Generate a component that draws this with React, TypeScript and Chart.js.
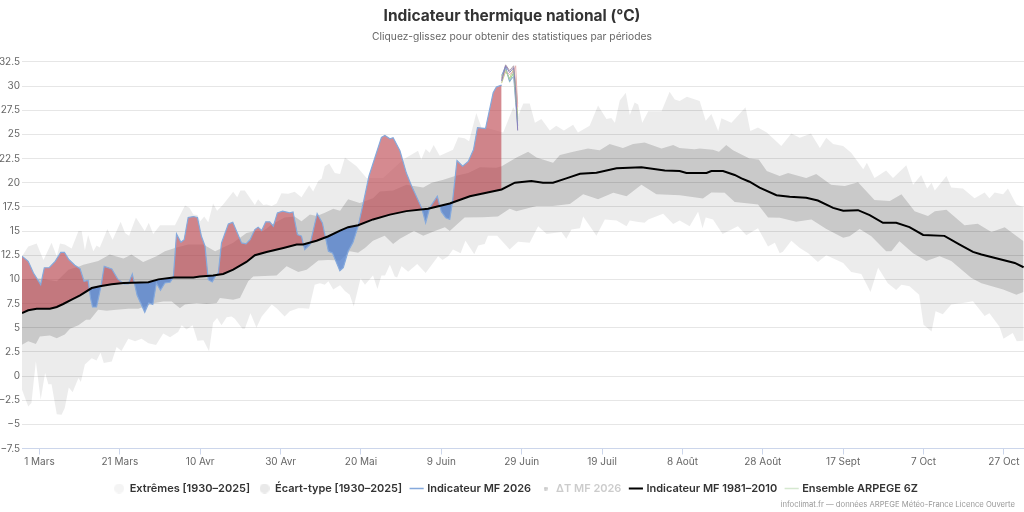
import React, { useEffect, useRef } from 'react';
import { Chart, registerables } from 'chart.js';

Chart.register(...registerables);

// days are counted from 1 March
const tickDays = [0, 20, 40, 60, 80, 100, 120, 140, 160, 180, 200, 220, 240];
const tickLabels = ['1 Mars', '21 Mars', '10 Avr', '30 Avr', '20 Mai', '9 Juin', '29 Juin', '19 Juil', '8 Août', '28 Août', '17 Sept', '7 Oct', '27 Oct'];

const extHighDays = [-4.35, -2.8, -0.7, 1, 3, 4.3, 5.1, 6.3, 8, 9.7, 10.5, 11.3, 12.1, 13.4, 14.2, 15, 16.9, 18.2, 20.2, 21.3, 22.3, 24, 26.2, 27.2, 28.3, 30, 33.7, 36.2, 37.3, 38.3, 39.3, 40, 41, 42, 43.2, 44.2, 45.6, 48.2, 49.2, 50, 51.1, 53.6, 54.4, 55.7, 56.5, 57.8, 59, 60.2, 61.9, 62.7, 63.5, 65.2, 67.1, 68.1, 69.4, 70.2, 71, 72.1, 73.5, 74.8, 76, 78.9, 81.4, 85.5, 90.5, 94.2, 95, 96.1, 97.1, 98.1, 99.6, 102.9, 104.2, 105.8, 106.9, 108.7, 110, 111, 115.4, 117.9, 119.1, 120.4, 122, 123.3, 124.9, 127, 128.6, 130.5, 132.8, 134, 136.9, 139, 141.1, 142.3, 143.2, 144.4, 145.9, 146.9, 148.1, 149, 150, 151.5, 154.8, 156.8, 158.1, 159.3, 161.1, 164.3, 165.8, 167.2, 168.9, 169.7, 172.2, 175.7, 176.9, 178.8, 181, 184.6, 187.1, 189.2, 192, 194.2, 195.8, 197.5, 200, 202, 205, 205.9, 207.8, 210.7, 212.4, 215.7, 217.4, 219.4, 220.9, 222, 222.8, 225.7, 226.9, 229.8, 232.7, 235.2, 236.4, 237.7, 239.8, 241, 243.1, 244.9];
const extHighVals = [12.4, 13.4, 13.7, 12, 13.8, 12.4, 13.7, 13.6, 13.2, 15, 15, 13, 14.6, 12.9, 13.5, 13.3, 15.2, 14.1, 15.95, 14.8, 14.5, 16.4, 15, 15.85, 14.7, 15.6, 15.6, 17.65, 17.4, 16.7, 16.65, 16, 16.5, 15.9, 17.85, 17.1, 17.7, 19.06, 18.5, 19.2, 19.2, 17.7, 18.3, 17.7, 17.75, 17.6, 17.85, 18.9, 18.85, 18.96, 19.06, 18.5, 19.75, 19.1, 20.2, 20.4, 21.7, 22, 21, 20.9, 22.6, 21.7, 20.5, 20.5, 22.4, 23.3, 22.4, 23.5, 23.1, 23.9, 22.8, 23.4, 24.7, 24.6, 24.3, 27.2, 25.7, 25.7, 25.2, 27.8, 26.9, 28.2, 28.2, 26.2, 26.6, 25.4, 25.9, 25.4, 26, 25.2, 25.9, 28, 26.6, 26.7, 26.2, 28.5, 29.3, 27, 28.3, 28.1, 26.2, 27.4, 27.4, 29.4, 28.6, 28.46, 28.9, 28.46, 26.4, 27.1, 25.35, 26.66, 26.2, 27.8, 25.35, 25.7, 25.2, 23.8, 25.1, 24.65, 25.1, 23.6, 24.65, 24, 23.8, 23.1, 21.4, 22.07, 20.5, 21.27, 20.5, 21.8, 19.8, 20.8, 19.4, 20, 19.2, 20.7, 19.5, 19.4, 18.4, 19, 18.4, 19, 18.8, 19.4, 17.75, 17.5];

const extLowDays = [-4.35, -2.8, -2, -0.9, 0.3, 1.4, 2.2, 3, 4.3, 5.5, 6.3, 7.3, 8.25, 9.7, 10.3, 11.3, 13, 14.2, 15.2, 16, 18, 19.2, 20.4, 22.1, 23.8, 25.4, 27.1, 29, 30.8, 32.5, 34.5, 35.4, 36.6, 38.1, 39.3, 40.8, 42.2, 43.2, 44.2, 45.3, 46.6, 47.8, 48.6, 50.5, 51.1, 52.5, 54, 55.3, 57.8, 59, 61, 62.3, 64.4, 65.6, 67.1, 68.5, 69.8, 71, 71.9, 73.1, 74.8, 76, 77.2, 78.2, 79.9, 81, 83, 84.1, 85.1, 86, 87.2, 88.4, 89, 90.1, 91.75, 94, 96.1, 99.2, 100.3, 101.7, 102.9, 104.8, 106, 108.2, 109.2, 110.8, 111.6, 113.9, 117, 119.1, 122, 124.1, 126.2, 129.9, 131.1, 132.4, 134.5, 135.3, 138.6, 140.7, 143.6, 146.1, 146.9, 148.6, 150.6, 151.5, 155.2, 157.7, 159.3, 161.8, 163.9, 165, 165.8, 167.6, 170, 173.8, 175.9, 178.8, 181.3, 183, 184.2, 185, 187.1, 189.2, 191.3, 193.7, 195.8, 200, 202, 204.5, 206.8, 208.7, 211.1, 213.2, 214.5, 216.5, 218.9, 220, 222, 223, 224.8, 226.9, 229.8, 232.3, 235.2, 236.4, 238.9, 239.9, 242.2, 243.2, 244.9];
const extLowVals = [-1.43, -3.15, -2.8, 1.5, -2.46, 0.3, -0.84, -0.84, -3.95, -4, -3.3, -1.2, -1.67, -0.2, -0.63, 1.2, 1.85, 1.6, 2.4, 1.34, 1.5, 3, 2.6, 3.86, 3.6, 3.86, 3.4, 3.2, 4.4, 4, 4.55, 5.24, 4.8, 5.24, 3.65, 3.7, 2.55, 5.5, 6, 5.24, 6.07, 6.17, 5.93, 4.9, 4.9, 6.5, 5, 6.17, 7.4, 7, 6.17, 6.7, 7, 7, 6.97, 9.45, 9.6, 9.45, 9.8, 8.94, 9.4, 8.8, 8.4, 7.2, 10.1, 9.45, 10.4, 9, 10.4, 10.4, 11.5, 10.3, 10.2, 11.35, 10.8, 11.6, 10.66, 12.4, 12, 12.4, 13.1, 12.7, 14, 12.6, 13.5, 13.67, 14.5, 14.5, 13.1, 13.9, 13.8, 15.5, 14.7, 14.9, 14.2, 15.15, 15.3, 16.5, 14.5, 16.2, 16.1, 15.5, 16.1, 15.95, 15.85, 16.2, 16.8, 15.74, 16.1, 15.5, 17, 15.3, 16.4, 16.2, 14.7, 15.5, 14.57, 15.3, 13.4, 13.8, 12.7, 12.85, 14, 13.25, 12.7, 11.8, 12.5, 11.7, 10.77, 10.56, 8.7, 11.2, 9.6, 8.9, 9.45, 9.3, 8.4, 5.3, 4.6, 6.7, 6.4, 7.4, 7.56, 7.73, 6.2, 6.5, 5.1, 3.86, 4.45, 3.6, 3.66];

const sdHighDays = [-4.35, 0.1, 4.3, 7.2, 10, 10.9, 14.6, 17.5, 20.9, 22.9, 25.8, 29.1, 31.2, 33.7, 37, 40.8, 43.7, 48.2, 51.5, 53.6, 55.7, 57.8, 61, 63.5, 65.2, 67.3, 69, 71, 73.1, 74.8, 76.8, 79.7, 83, 84.7, 88, 91.3, 93.2, 95.5, 97.6, 100.5, 103.4, 106.7, 109.6, 113.7, 115, 118.7, 121.6, 123.7, 127.8, 129.5, 132.8, 136.5, 139.4, 141.9, 145.2, 147.7, 150.6, 154.8, 157.7, 159.3, 163, 164.3, 167.6, 169.1, 170.9, 172.6, 176.7, 179, 181, 184.2, 186.3, 190.8, 193.3, 197, 200.4, 203.7, 207.8, 211.6, 214.5, 217.8, 221.1, 222.8, 225.7, 230.2, 233.5, 236.9, 240.2, 244.9];
const sdHighVals = [10, 10.1, 9.8, 11, 11.35, 11.5, 11.9, 12.56, 12.15, 12.56, 11.8, 12.4, 12.9, 13.25, 13.6, 13.6, 12.9, 13.8, 14.8, 15, 15, 15.67, 16.4, 16.5, 16, 16.7, 16.55, 16.9, 17.3, 17.1, 18.3, 17.9, 18.4, 19.1, 19.2, 19.8, 19.65, 19.5, 20, 20.3, 20.7, 21, 21.6, 21.55, 21.7, 22.6, 23.2, 22.6, 22.07, 22.86, 23.2, 23.55, 23.35, 24, 23.6, 24, 24.15, 23.55, 23.9, 23.6, 23.45, 23.55, 23.4, 23.2, 23.9, 23.35, 22.5, 22.4, 21.2, 20.7, 21, 20.5, 20.9, 19.8, 19.65, 20.06, 18.2, 18.1, 18.8, 17.06, 16.55, 17.06, 17.2, 15.6, 15.75, 14.9, 15.4, 13.95];

const sdLowDays = [-4.35, -2.8, -0.9, 0.1, 2.6, 4.3, 6.3, 7.6, 9.7, 11.6, 12.6, 14.6, 16.7, 19.2, 22.1, 24.6, 28.7, 30.8, 32.9, 34.95, 36.2, 39.1, 41.6, 44.1, 44.9, 48.2, 49.9, 51.95, 53.2, 59, 61.5, 64.4, 66.5, 69.4, 71.9, 74.8, 77.2, 79.3, 81, 83, 85.9, 88, 89.7, 93.2, 95.5, 98.4, 100.9, 102.1, 105.8, 110.4, 114.1, 117, 118.7, 123.7, 127.8, 132, 135.3, 139, 142.8, 146.1, 149.8, 153.5, 159.3, 165.1, 167.2, 170.5, 173, 178.8, 181.3, 184.2, 188.3, 192.1, 195.8, 200, 201.6, 204.1, 207, 210.7, 212, 214, 217.4, 220.7, 224, 226.9, 231.9, 234.4, 239.8, 243.1, 244.9];
const sdLowVals = [3.24, 3.6, 3.3, 4.1, 4.2, 3.9, 4.3, 4.9, 5.24, 5.83, 5.83, 6.86, 6.76, 6.86, 6.97, 6.97, 7.55, 7.7, 7.7, 7, 7.4, 7.55, 7.45, 7.55, 8.07, 7.9, 8.07, 9.8, 10.3, 10.4, 11.35, 10.77, 11, 11.94, 12, 11.94, 12.9, 12.75, 13.25, 14, 14.5, 13.67, 14.2, 15, 14.5, 15, 15.4, 15, 16.4, 16.43, 16.5, 17.3, 17.05, 17.6, 17.6, 17.8, 18.8, 18.3, 18.96, 18.6, 19.8, 18.8, 18.7, 18.37, 19, 18.96, 18, 17.75, 16.4, 16.37, 15.95, 16.2, 15.2, 14.3, 14.46, 15.2, 14.46, 12.9, 12.9, 13.95, 12.7, 11.9, 12.4, 11.9, 10.15, 9.6, 8.94, 8.4, 8.7];

const normalDays = [-4.35, -2.8, -0.7, 2.6, 4.3, 5.9, 8, 10.1, 13, 15, 17.95, 20.9, 27.1, 29.6, 33.3, 38.3, 39.9, 43.2, 45.7, 48.2, 51.5, 53.6, 56.5, 60.7, 64, 65.6, 68.95, 71.9, 74.8, 76.8, 79.3, 83, 87.2, 91.3, 96.7, 102.1, 107.1, 111.2, 115, 118.3, 122.4, 125.3, 127.8, 131.1, 134.5, 138.6, 143.6, 149.8, 155.6, 159.3, 161, 166, 167.2, 170.1, 173, 174.7, 176.7, 179.2, 183.4, 186.7, 190.8, 193.7, 197.5, 200, 203.7, 206.6, 209.9, 213.2, 216.5, 219.9, 225.2, 229, 232.3, 234.4, 242.7, 244.9];
const normalVals = [6.52, 6.8, 6.97, 6.97, 7.14, 7.45, 7.9, 8.35, 9.1, 9.28, 9.5, 9.63, 9.7, 10, 10.2, 10.2, 10.3, 10.4, 10.56, 11, 11.8, 12.5, 12.84, 13.25, 13.6, 13.6, 14, 14.46, 15.05, 15.4, 15.6, 16.2, 16.7, 17.06, 17.3, 17.85, 18.6, 18.96, 19.3, 20, 20.17, 20, 20, 20.45, 20.93, 21.03, 21.5, 21.6, 21.27, 21.2, 21, 21, 21.2, 21.2, 20.8, 20.44, 20.1, 19.5, 18.7, 18.55, 18.44, 18.16, 17.4, 17.1, 17.16, 16.64, 15.85, 15.85, 15.4, 14.6, 14.5, 13.6, 12.84, 12.57, 11.7, 11.25];

const mf2026Days = [-4.35, -2.8, -1.5, 0.3, 1.2, 2.4, 3.9, 5.3, 6.2, 7.3, 8.8, 10.1, 11.1, 12.1, 12.7, 13.2, 14.2, 15.3, 16.1, 18, 19.4, 21, 22.1, 23.1, 24.3, 25.8, 26.2, 27.2, 28.2, 29.1, 30.1, 31.2, 32.5, 33.3, 34.1, 35.2, 36, 37, 38.3, 39.3, 40.3, 41.2, 42, 43, 43.7, 44.5, 45.3, 47, 48.1, 50.3, 51.4, 52.4, 53.6, 54.4, 55.3, 56.3, 57.3, 58.2, 59.2, 60.5, 62.3, 63.1, 64.2, 65.2, 66, 67.3, 69.1, 70.4, 71.9, 72.9, 74.75, 75.6, 76.8, 78, 79.3, 80.5, 82, 85.1, 85.95, 87.2, 88, 89.7, 91.3, 92.6, 95.1, 96.1, 97.1, 99, 100, 101.1, 102.1, 102.8, 103.9, 105.3, 106.7, 108, 109, 111, 112.9, 113.7, 115];
const mf2026Vals = [12.4, 11.87, 10.66, 9.45, 11.2, 11.2, 11.87, 12.8, 12.8, 12.05, 11.46, 11.1, 9.8, 9.9, 8.07, 7.14, 7.14, 9.28, 11.35, 11.08, 10.08, 9.52, 9.52, 10.56, 8.35, 6.97, 6.6, 7.55, 7.4, 9.63, 8.87, 9.63, 9.7, 10.2, 14.7, 13.84, 14.1, 16.4, 16.5, 16.4, 14.46, 13.43, 9.97, 9.73, 10.3, 10.66, 13.77, 15.74, 15.9, 13.77, 13.67, 14.1, 15.15, 15.4, 15.05, 15.95, 15.95, 15.5, 16.88, 17.05, 16.88, 16.98, 14.64, 14.46, 13.08, 13.6, 16.8, 15.84, 12.9, 12.74, 10.9, 11.2, 12.9, 13.8, 15.5, 17.75, 20.7, 24.7, 24.9, 24.55, 24.66, 23.3, 21, 19.65, 17.4, 15.85, 17.4, 18.6, 17, 16.37, 16.2, 18.1, 22.3, 21.7, 22.2, 23.4, 25.7, 25.6, 29.3, 29.9, 30.1];

const ensembleDays = [115, 116, 117, 118, 118.5, 119];
const ensembleMembers = [
  [30.5, 32.1, 31.4, 31.9, 29.5, 25.4],
  [31.0, 31.7, 30.7, 31.3, 28.8, 26.4],
  [30.7, 31.6, 31.2, 31.5, 32.1, 27.8],
  [31.1, 32.0, 30.5, 31.0, 28.3, 25.9],
  [30.3, 31.5, 30.8, 31.8, 30.0, 27.0],
  [30.8, 32.2, 31.6, 32.1, 30.2, 28.2],
  [30.6, 31.9, 30.4, 31.5, 29.2, 26.6],
];
const ensembleColors = ['#8a7fb8', '#a8d59c', '#e8b0b0', '#7f9fd8', '#c4cf8a', '#b0a0a8', '#9fd0b8'];

const legendNames = ['Extrêmes [1930–2025]', 'Écart-type [1930–2025]', 'Indicateur MF 2026', 'ΔT MF 2026', 'Indicateur MF 1981–2010', 'Ensemble ARPEGE 6Z'];

const toPoints = (days: number[], vals: number[]) => days.map((x, i) => ({ x, y: vals[i] }));

const dot = (radius: number, color: string) => {
  const c = document.createElement('canvas');
  c.width = c.height = radius * 2;
  const g = c.getContext('2d')!;
  g.fillStyle = color;
  g.arc(radius, radius, radius, 0, Math.PI * 2);
  g.fill();
  return c;
};

const credits = {
  id: 'credits',
  afterLayout(chart: any) {
    // nudge the centred legend to where the reference has it
    chart.legend.left += 4;
    chart.legend.right += 4;
  },
  afterDraw(chart: Chart) {
    const { ctx } = chart;
    ctx.save();
    ctx.font = '7.7px Inter';
    ctx.fillStyle = '#999999';
    ctx.textAlign = 'right';
    ctx.textBaseline = 'middle';
    ctx.fillText('infoclimat.fr — données ARPEGE Météo-France Licence Ouverte', 1015, 505);
    ctx.restore();
  },
};

const App: React.FC = () => {
  const chartRef = useRef<HTMLCanvasElement | null>(null);

  useEffect(() => {
    if (!chartRef.current) return;
    const band = { borderWidth: 0, pointRadius: 0 };
    const chart = new Chart(chartRef.current, {
      type: 'line',
      data: {
        datasets: [
          { label: legendNames[0], data: toPoints(extHighDays, extHighVals), ...band, fill: 1, backgroundColor: 'rgba(0,0,0,0.075)', order: 10 },
          { label: legendNames[0], data: toPoints(extLowDays, extLowVals), ...band, fill: false, order: 10 },
          { label: legendNames[1], data: toPoints(sdHighDays, sdHighVals), ...band, fill: 3, backgroundColor: 'rgba(0,0,0,0.15)', order: 9 },
          { label: legendNames[1], data: toPoints(sdLowDays, sdLowVals), ...band, fill: false, order: 9 },
          {
            label: legendNames[2],
            data: toPoints(mf2026Days, mf2026Vals),
            borderColor: '#85a9dc',
            borderWidth: 1.2,
            pointRadius: 0,
            fill: { target: 5, above: 'rgba(190,75,85,0.65)', below: 'rgba(85,130,205,0.8)' },
            order: 5,
          },
          { label: legendNames[4], data: toPoints(normalDays, normalVals), borderColor: '#000000', borderWidth: 2, pointRadius: 0, fill: false, order: 1 },
          { label: legendNames[3], data: [], hidden: true, pointRadius: 0 },
          ...ensembleMembers.map((vals, i) => ({
            label: legendNames[5],
            data: toPoints(ensembleDays, vals),
            borderColor: ensembleColors[i],
            borderWidth: 1,
            pointRadius: 0,
            fill: false,
            order: 3,
          })),
        ],
      },
      options: {
        responsive: false,
        animation: false,
        layout: { padding: { left: 0, right: 0, top: 0, bottom: 8 } },
        plugins: {
          title: {
            display: true,
            text: 'Indicateur thermique national (°C)',
            color: '#333333',
            font: { family: 'Inter', size: 15.5, weight: 'bold' },
            padding: { top: 7, bottom: 4 },
          },
          subtitle: {
            display: true,
            text: 'Cliquez-glissez pour obtenir des statistiques par périodes',
            color: '#666666',
            font: { family: 'Inter', size: 10.25, weight: 'normal' },
            padding: { top: 1, bottom: 19 },
          },
          tooltip: { enabled: false },
          legend: {
            position: 'bottom',
            onClick: () => {},
            labels: {
              usePointStyle: true,
              boxWidth: 10,
              boxHeight: 10,
              padding: 9.5,
              font: { family: 'Inter', size: 11, weight: 600 },
              generateLabels: () => [
                { text: legendNames[0], pointStyle: dot(5, '#f4f4f4'), fontColor: '#333333', lineWidth: 0, datasetIndex: 0 },
                { text: legendNames[1], pointStyle: dot(5, '#e9e9e9'), fontColor: '#333333', lineWidth: 0, datasetIndex: 2 },
                { text: legendNames[2], pointStyle: 'line', strokeStyle: '#85a9dc', fontColor: '#333333', lineWidth: 1.5, datasetIndex: 4 },
                { text: legendNames[3], pointStyle: dot(2, '#cccccc'), fontColor: '#cccccc', lineWidth: 0, datasetIndex: 6 },
                { text: legendNames[4], pointStyle: 'line', strokeStyle: '#000000', fontColor: '#333333', lineWidth: 2, datasetIndex: 5 },
                { text: legendNames[5], pointStyle: 'line', strokeStyle: '#d5e8d0', fontColor: '#333333', lineWidth: 1.5, datasetIndex: 7 },
              ],
            },
          },
        },
        scales: {
          x: {
            type: 'linear',
            min: -4.35,
            max: 245,
            afterBuildTicks: (axis: any) => {
              axis.ticks = tickDays.map((value) => ({ value }));
            },
            afterFit: (axis: any) => {
              axis.height += 5;
            },
            ticks: {
              autoSkip: false,
              maxRotation: 0,
              padding: 1,
              color: '#666666',
              font: { family: 'Inter', size: 10 },
              callback: (v: any) => tickLabels[tickDays.indexOf(Number(v))],
            },
            grid: { drawOnChartArea: false, color: '#ccd6eb', tickLength: 6 },
            border: { color: '#ccd6eb' },
          },
          y: {
            min: -7.5,
            max: 32.5,
            afterFit: (axis: any) => {
              axis.width = 22;
            },
            ticks: {
              stepSize: 2.5,
              padding: 2,
              color: '#666666',
              font: { family: 'Inter', size: 10 },
              callback: (v: any) => String(v).replace('-', '−'),
            },
            grid: { color: '#e6e6e6', drawTicks: false },
            border: { display: false },
          },
        },
      },
      plugins: [credits],
    });
    return () => chart.destroy();
  }, []);

  return (
    <div style={{ position: 'fixed', left: 0, top: 0, width: 1024, height: 512, background: '#ffffff' }}>
      <canvas ref={chartRef} width={1024} height={512} style={{ display: 'block' }} />
    </div>
  );
};

export default App;
